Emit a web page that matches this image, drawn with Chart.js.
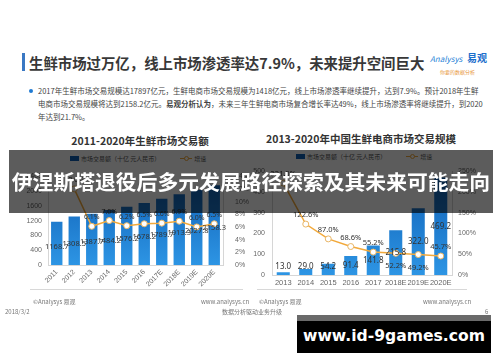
<!DOCTYPE html>
<html>
<head>
<meta charset="utf-8">
<script src="https://cdn.jsdelivr.net/npm/chart.js@4.4.1/dist/chart.umd.min.js"></script>
<style>
    html, body { margin: 0; padding: 0; background: #fff; }
    body { width: 500px; height: 362px; position: relative; overflow: hidden;
           font-family: "Noto Sans CJK SC", "Noto Sans", sans-serif; color: #333; }
    .abs { position: absolute; white-space: nowrap; }
    .chart-box { position: absolute; width: 250px; height: 130px; }
    .legend { position: absolute; font-size: 6px; color: #555; display: flex; align-items: center; white-space: nowrap; }
    .legend .sq { display: inline-block; width: 9px; height: 5px; background: #0f5fb5; margin-right: 2px; }
    .legend .ln { display: inline-block; position: relative; width: 12px; height: 6px; margin: 0 2px 0 20px; }
    .legend .ln::before { content: ""; position: absolute; left: 0; right: 0; top: 2.5px; height: 1px; background: #f2a93b; }
    .legend .ln::after { content: ""; position: absolute; left: 3.5px; top: 0.5px; width: 3px; height: 3px; border: 1px solid #f2a93b; border-radius: 50%; background: #fff; }
    .foot { font-size: 6px; color: #777; }
</style>
</head>
<body>

<!-- 頁面標題與說明文字 -->
<div class="abs" style="left:22px;top:53px;width:3px;height:18px;background:#3a78c3;"></div>
<div class="abs" style="left:29px;top:53px;font-size:14.4px;font-weight:700;line-height:20px;color:#383838;">生鲜市场过万亿，线上市场渗透率达7.9%，未来提升空间巨大</div>
<div class="abs" style="left:430px;top:54px;font-size:8px;font-style:italic;color:#2a86d8;line-height:10px;">Analysys</div>
<div class="abs" style="left:467px;top:51px;font-size:10px;font-weight:700;color:#1d6fcc;line-height:14px;">易观</div>
<div class="abs" style="left:440px;top:68px;font-size:5px;color:#e8963a;line-height:7px;">你要的数据分析</div>

<div class="abs" style="left:29px;top:89px;width:4px;height:4px;border-radius:50%;background:#1f7ad2;"></div>
<div class="abs" style="left:38px;top:84px;font-size:7.5px;line-height:13px;color:#444;">
    2017年生鲜市场交易规模达17897亿元，生鲜电商市场交易规模为1418亿元，线上市场渗透率继续提升，达到7.9%。预计2018年生鲜<br>
    电商市场交易规模将达到2158.2亿元。<b>易观分析认为</b>，未来三年生鲜电商市场复合增长率达49%，线上市场渗透率将继续提升，到2020<br>
    年达到21.7%。
</div>

<!-- 兩張圖的標題與圖例 -->
<div class="abs" style="left:0;width:280px;top:133px;text-align:center;font-size:10.5px;font-weight:700;color:#333;">2011-2020年生鲜市场交易额</div>
<div class="abs" style="left:236px;width:250px;top:131px;text-align:center;font-size:10.5px;font-weight:700;color:#333;">2013-2020年中国生鲜电商市场交易规模</div>
<div class="legend" style="left:70px;top:154px;"><span class="sq"></span>市场交易额（十亿 元人民币）<span class="ln"></span>增速</div>
<div class="legend" style="left:296px;top:152px;"><span class="sq"></span>市场交易额（十亿 元人民币）<span class="ln"></span>增速</div>

<div class="chart-box" style="left:0;top:160px;"><canvas id="leftChart" width="250" height="130"></canvas></div>
<div class="chart-box" style="left:250px;top:160px;"><canvas id="rightChart" width="250" height="130"></canvas></div>

<!-- 頁尾 -->
<div class="abs" style="left:30px;top:289px;width:213px;height:1px;background:#d8d8d8;"></div>
<div class="abs" style="left:257px;top:289px;width:210px;height:1px;background:#d8d8d8;"></div>
<div class="abs foot" style="left:33px;top:297px;">©Analysys 易观</div>
<div class="abs foot" style="left:201px;top:297px;">www.analysys.cn</div>
<div class="abs foot" style="left:259px;top:297px;">©Analysys 易观</div>
<div class="abs foot" style="left:423px;top:297px;">www.analysys.cn</div>
<div class="abs foot" style="left:5px;top:307px;">2018/3/2</div>
<div class="abs foot" style="left:222px;top:307px;">数据分析驱动业务升级</div>
<div class="abs foot" style="left:485px;top:307px;">6</div>

<!-- 蓋在圖上的橫幅與浮水印 -->
<div class="abs" style="left:9px;top:150px;width:484px;height:63px;background:rgba(0,0,0,0.64);"></div>
<div class="abs" style="left:9px;top:150px;width:484px;height:63px;line-height:63px;text-align:center;font-size:20.8px;font-weight:700;color:#fff;">伊涅斯塔退役后多元发展路径探索及其未来可能走向</div>
<div class="abs" style="left:297px;top:315px;width:194px;height:6px;background:#6a6a6a;"></div>
<div class="abs" style="left:297px;top:321px;width:194px;height:32px;background:#000;color:#fff;font-size:15.6px;font-weight:700;line-height:30px;text-align:center;font-family:'DejaVu Sans','Noto Sans',sans-serif;">www.id-9games.com</div>

<script>
// 左圖：2011-2020 生鮮市場交易額（十億元）與增速
const leftYears = ["2011", "2012", "2013", "2014", "2015", "2016", "2017E", "2018E", "2019E", "2020E"];
const leftAmount = [1168.7, 1308.5, 1387.7, 1484.2, 1576.2, 1678.2, 1789.7, 1913.3, 2027.8, 2158.3];
const leftGrowth = [null, 12.0, 6.1, 7.0, 6.2, 6.5, 6.6, 6.9, 6.0, 6.5];
const leftAmountTicks = [0, 400, 800, 1200, 1600, 2000, 2400];
const leftGrowthTicks = [0, 2, 4, 6, 8, 10, 12, 14];

// 右圖：2013-2020 中國生鮮電商市場交易規模與增速
const rightYears = ["2013", "2014", "2015", "2016", "2017", "2018E", "2019E", "2020E"];
const rightAmount = [13.0, 29.0, 54.2, 91.4, 141.8, 215.8, 322.0, 469.2];
const rightGrowth = [221.5, 122.6, 87.0, 68.6, 55.2, 52.2, 49.2, 45.7];
const rightAmountTicks = [0, 100, 200, 300, 400, 500];
const rightGrowthTicks = [0, 50, 100, 150, 200, 250];

// 增速標籤放在點的上方或下方
const rightGrowthLabelBelow = [false, false, false, false, false, true, true, false];

const LINE_COLOR = "#f2a93b";
const TICK_COLOR = "#666";

function barGradient(context) {
    const area = context.chart.chartArea;
    if (!area) return "#1f7ad2";
    const g = context.chart.ctx.createLinearGradient(0, area.top, 0, area.bottom);
    g.addColorStop(0, "#0f5fb5");
    g.addColorStop(1, "#2d95e4");
    return g;
}

// 在柱子與折線點上寫數值
const valueLabels = {
    id: "valueLabels",
    afterDatasetsDraw(chart, args, opts) {
        const ctx = chart.ctx;
        ctx.save();
        ctx.fillStyle = "#333";
        ctx.textAlign = "center";
        ctx.textBaseline = "middle";
        chart.data.datasets.forEach((ds, i) => {
            const meta = chart.getDatasetMeta(i);
            meta.data.forEach((el, j) => {
                const v = ds.data[j];
                if (v == null) return;
                if (ds.type === "line") {
                    ctx.font = opts.lineFont;
                    const below = opts.lineBelow && opts.lineBelow[j];
                    ctx.fillText(v.toFixed(1) + "%", el.x, below ? el.y + 13 : el.y - 9);
                } else {
                    ctx.font = opts.barFont;
                    const mid = (el.y + el.base) / 2 + opts.barShift;
                    ctx.fillText(v.toFixed(1), el.x, Math.min(mid, el.base - opts.barMinLift));
                }
            });
        });
        ctx.restore();
    }
};

function fixWidth(w) { return (scale) => { scale.width = w; }; }
function fixHeight(h) { return (scale) => { scale.height = h; }; }

function makeChart(id, cfg) {
    return new Chart(document.getElementById(id), {
        type: "bar",
        data: {
            labels: cfg.labels,
            datasets: [
                {
                    type: "line",
                    data: cfg.growth,
                    yAxisID: "y1",
                    order: 0,
                    borderColor: LINE_COLOR,
                    borderWidth: 1.5,
                    pointRadius: 3,
                    pointBorderWidth: 1,
                    pointBackgroundColor: "#fff",
                    pointBorderColor: "#e8b566",
                    tension: 0
                },
                {
                    type: "bar",
                    data: cfg.amount,
                    yAxisID: "y",
                    order: 1,
                    backgroundColor: barGradient,
                    barPercentage: cfg.barPct,
                    categoryPercentage: 1
                }
            ]
        },
        options: {
            responsive: false,
            animation: false,
            layout: { padding: { top: cfg.top, left: 0, right: 0, bottom: 0 } },
            plugins: {
                legend: { display: false },
                tooltip: { enabled: false },
                valueLabels: cfg.labelOpts
            },
            scales: {
                x: {
                    grid: { display: false, drawTicks: false },
                    border: { display: true, color: "#d6d6d6" },
                    ticks: { color: TICK_COLOR, font: { size: cfg.xFont }, padding: 3,
                             autoSkip: false, minRotation: cfg.rot, maxRotation: cfg.rot },
                    afterFit: fixHeight(cfg.xHeight)
                },
                y: {
                    position: "left",
                    min: cfg.amountTicks[0],
                    max: cfg.amountTicks[cfg.amountTicks.length - 1],
                    afterBuildTicks: (scale) => { scale.ticks = cfg.amountTicks.map((v) => ({ value: v })); },
                    grid: { display: false, drawTicks: false },
                    border: { display: true, color: "#d6d6d6" },
                    ticks: { color: TICK_COLOR, font: { size: 7 }, padding: cfg.yPad, callback: (v) => String(v) },
                    afterFit: fixWidth(cfg.yWidth)
                },
                y1: {
                    position: "right",
                    min: cfg.growthTicks[0],
                    max: cfg.growthTicks[cfg.growthTicks.length - 1],
                    afterBuildTicks: (scale) => { scale.ticks = cfg.growthTicks.map((v) => ({ value: v })); },
                    grid: { display: false, drawTicks: false },
                    border: { display: true, color: "#d6d6d6" },
                    ticks: { color: TICK_COLOR, font: { size: 7 }, padding: cfg.y1Pad, callback: (v) => v + "%" },
                    afterFit: fixWidth(cfg.y1Width)
                }
            }
        },
        plugins: [valueLabels]
    });
}

makeChart("leftChart", {
    labels: leftYears, amount: leftAmount, growth: leftGrowth,
    amountTicks: leftAmountTicks, growthTicks: leftGrowthTicks,
    barPct: 0.65, top: 7.5, xHeight: 25, xFont: 7, rot: 45,
    yWidth: 48, yPad: 6, y1Width: 27, y1Pad: 12,
    labelOpts: { barFont: "7.5px 'Noto Sans', sans-serif", lineFont: "7px 'Noto Sans', sans-serif", barShift: 3, barMinLift: 0 }
});

makeChart("rightChart", {
    labels: rightYears, amount: rightAmount, growth: rightGrowth,
    amountTicks: rightAmountTicks, growthTicks: rightGrowthTicks,
    barPct: 0.58, top: 8, xHeight: 15, xFont: 7.5, rot: 0,
    yWidth: 22, yPad: 7, y1Width: 48, y1Pad: 6,
    labelOpts: { barFont: "8px 'Noto Sans', sans-serif", lineFont: "7.5px 'Noto Sans', sans-serif", barShift: 0, barMinLift: 8, lineBelow: rightGrowthLabelBelow }
});
</script>
</body>
</html>
